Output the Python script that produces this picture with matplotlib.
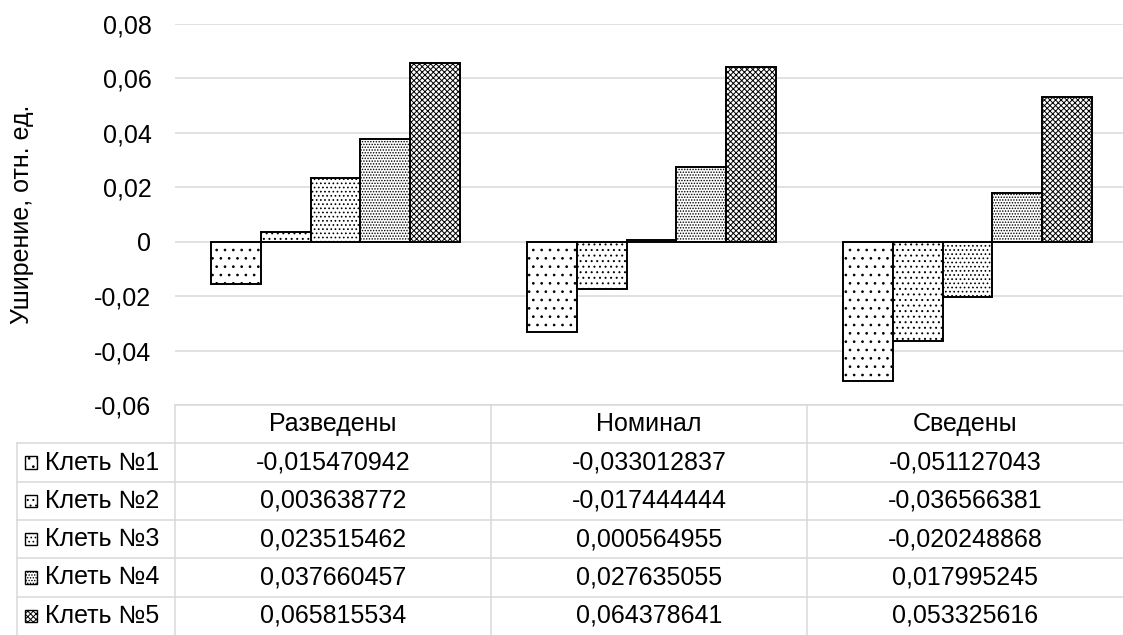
import numpy as np
import matplotlib
matplotlib.use("Agg")
from matplotlib import pyplot as plt
from matplotlib.patches import Rectangle
from matplotlib.ticker import FuncFormatter

plt.rcParams['font.family'] = ['Liberation Sans', 'DejaVu Sans']
plt.rcParams['hatch.linewidth'] = 0.7

categories = ["Разведены", "Номинал", "Сведены"]
series = ["Клеть №1", "Клеть №2", "Клеть №3", "Клеть №4", "Клеть №5"]
kl1 = [-0.015470942, -0.033012837, -0.051127043]
kl2 = [0.003638772, -0.017444444, -0.036566381]
kl3 = [0.023515462, 0.000564955, -0.020248868]
kl4 = [0.037660457, 0.027635055, 0.017995245]
kl5 = [0.065815534, 0.064378641, 0.053325616]
values = [kl1, kl2, kl3, kl4, kl5]
hatches = ["..", "...", "....", "......", "xxxxxx"]

W, H = 1123, 635
fig = plt.figure(figsize=(W / 100, H / 100), dpi=100)

grid_col = "#d9d9d9"
fs = 18

# chart area
ax = fig.add_axes([175 / W, (H - 405) / H, 948 / W, (405 - 24) / H])
x = np.arange(len(categories))
bw = 0.157
for i, vals in enumerate(values):
    ax.bar(x + (i - 2) * bw + 0.008, vals, bw, color="white", edgecolor="black",
           linewidth=1.4, hatch=hatches[i], zorder=3)

ax.set_xlim(-0.5, 2.5)
ax.set_ylim(-0.06, 0.08)
ax.set_yticks(np.arange(-0.06, 0.081, 0.02))
ax.yaxis.set_major_formatter(FuncFormatter(
    lambda v, p: "0" if abs(v) < 1e-9 else f"{v:.2f}".replace(".", ",")))
ax.grid(axis="y", color=grid_col, linewidth=1.1, zorder=0)
ax.tick_params(axis="y", length=0, pad=17, labelsize=fs)
ax.set_xticks([])
for s in ax.spines.values():
    s.set_visible(False)

fig.text(22 / W, 1 - 214 / H, "Уширение, отн. ед.", rotation=90,
         ha="center", va="center", fontsize=fs)

# data table under the chart
tab = fig.add_axes([17 / W, 0, 1 - 17 / W, (H - 405) / H])
tab.set_xlim(-1.0, 2.5)
tab.set_ylim(6.0, 0)
tab.axis("off")

lk = dict(color=grid_col, linewidth=1.1, clip_on=False)
tab.plot([-0.5, 2.5], [0, 0], **lk)
for r in range(1, 6):
    tab.plot([-1.0, 2.5], [r, r], **lk)
tab.plot([-1.0, -1.0], [1, 6], **lk)
for c in [-0.5, 0.5, 1.5]:
    tab.plot([c, c], [0, 6], **lk)

for j, cat in enumerate(categories):
    tab.text(j, 0.5, cat, ha="center", va="center", fontsize=fs)

kw, kh = 12 / 316, 12 / 38.3
for i, name in enumerate(series):
    yc = i + 1.5
    tab.add_patch(Rectangle((-0.975, yc - kh / 2), kw, kh, facecolor="white",
                            edgecolor="black", linewidth=1.0, hatch=hatches[i]))
    tab.text(-0.91, yc, name, ha="left", va="center", fontsize=fs)
    for j, v in enumerate(values[i]):
        tab.text(j, yc, f"{v:.9f}".replace(".", ","), ha="center",
                 va="center", fontsize=fs)

fig.savefig("out.png", dpi=100)
